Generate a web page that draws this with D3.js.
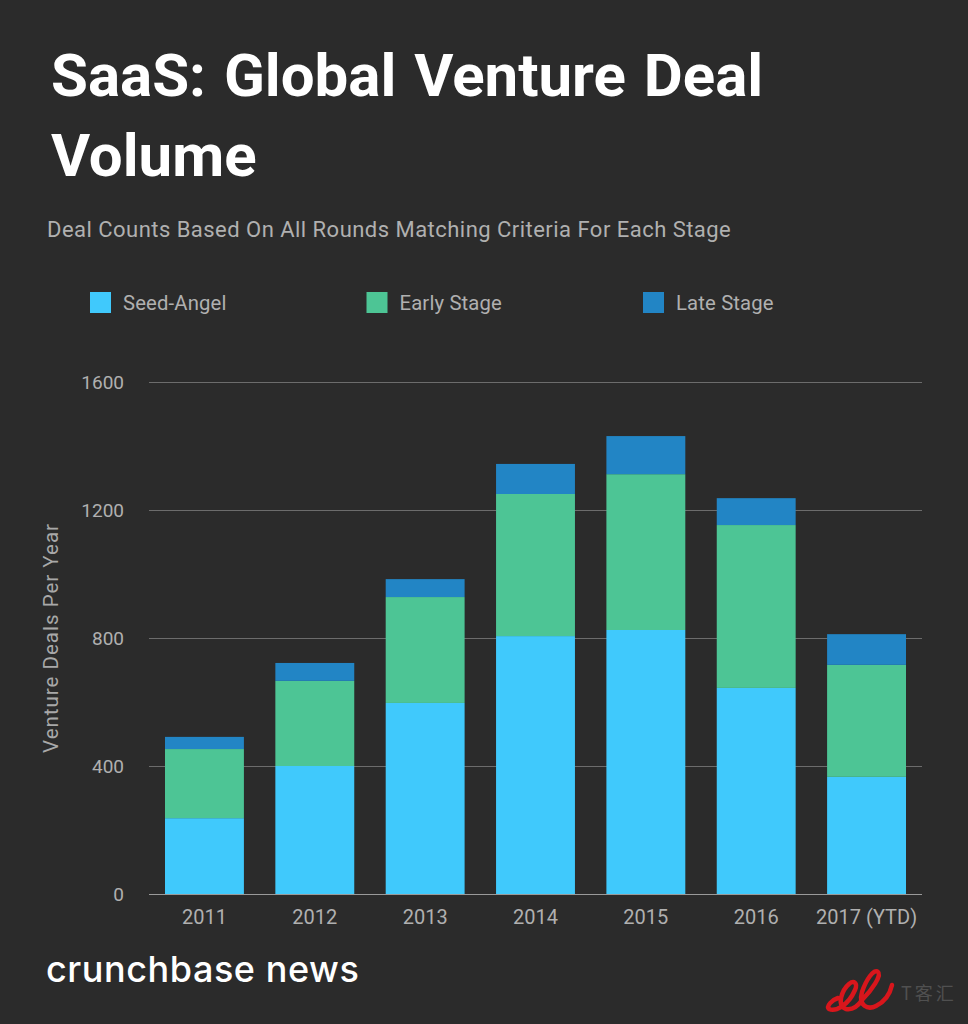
<!DOCTYPE html>
<html>
<head>
<meta charset="utf-8">
<script src="https://cdn.jsdelivr.net/npm/d3@7"></script>
<style>
html, body { margin: 0; padding: 0; background: #2b2b2b; }
svg { display: block; }
text { font-family: Roboto, sans-serif; }
</style>
</head>
<body>
<svg id="chart" width="968" height="1024"></svg>
<script>
const years = ["2011", "2012", "2013", "2014", "2015", "2016", "2017 (YTD)"]
const seedAngel = [237, 400, 597, 806, 825, 644, 366]
const earlyStage = [216, 266, 331, 444, 487, 509, 350]
const lateStage = [38, 56, 56, 94, 119, 84, 96]
const yTicks = [0, 400, 800, 1200, 1600]
const stages = ["Seed-Angel", "Early Stage", "Late Stage"]
const colors = ["#40c9fc", "#4dc595", "#2285c5"]

const svg = d3.select("#chart")
const rows = years.map((y, i) => ({ year: y, "Seed-Angel": seedAngel[i], "Early Stage": earlyStage[i], "Late Stage": lateStage[i] }))

const x = d3.scaleBand().domain(years).range([149, 922]).paddingInner(0.285).paddingOuter(0.145)
const y = d3.scaleLinear().domain([0, 1600]).range([894, 382])
const color = d3.scaleOrdinal().domain(stages).range(colors)

// title
svg.selectAll(".title")
	.data(["SaaS: Global Venture Deal", "Volume"])
	.enter()
	.append("text")
	.attr("x", 51)
	.attr("y", (d, i) => 96 + i * 80)
	.attr("fill", "#ffffff")
	.attr("font-size", 60)
	.attr("font-weight", 700)
	.attr("word-spacing", 3)
	.text(d => d)

svg.append("text")
	.attr("x", 47).attr("y", 237)
	.attr("fill", "#b0b0b0")
	.attr("font-size", 22)
	.attr("letter-spacing", 0.47)
	.text("Deal Counts Based On All Rounds Matching Criteria For Each Stage")

// legend
const legendX = d3.scalePoint().domain(stages).range([90, 643])
const legend = svg.selectAll(".legend")
	.data(stages)
	.enter()
	.append("g")
	.attr("transform", d => `translate(${legendX(d)},292)`)
legend.append("rect")
	.attr("width", 21).attr("height", 21)
	.attr("fill", d => color(d))
legend.append("text")
	.attr("x", 33).attr("y", 18)
	.attr("fill", "#b0b0b0")
	.attr("font-size", 20.3)
	.attr("letter-spacing", 0.15)
	.text(d => d)

// y axis + grid
const yAxis = svg.append("g")
	.attr("transform", "translate(149,0)")
	.call(d3.axisLeft(y).tickValues(yTicks).tickSize(-773).tickPadding(25).tickFormat(d3.format("d")))
yAxis.select(".domain").remove()
yAxis.selectAll("line").attr("stroke", d => d == 0 ? "#9a9a9a" : "#6c6c6c")
yAxis.selectAll("text")
	.attr("fill", "#b0b0b0")
	.attr("font-size", 19)
	.attr("font-family", "Roboto, sans-serif")

// stacked bars
const stacked = d3.stack().keys(stages)(rows)
svg.selectAll(".layer")
	.data(stacked)
	.enter()
	.append("g")
	.attr("fill", d => color(d.key))
	.selectAll("rect")
	.data(d => d)
	.enter()
	.append("rect")
	.attr("x", d => x(d.data.year))
	.attr("y", d => y(d[1]))
	.attr("width", x.bandwidth())
	.attr("height", d => y(d[0]) - y(d[1]))

// x axis
const xAxis = svg.append("g")
	.attr("transform", "translate(0,894)")
	.call(d3.axisBottom(x).tickSize(0).tickPadding(16))
xAxis.select(".domain").remove()
xAxis.selectAll("text")
	.attr("fill", "#b0b0b0")
	.attr("font-size", 20)
	.attr("font-family", "Roboto, sans-serif")

svg.append("text")
	.attr("transform", "translate(58,638) rotate(-90)")
	.attr("text-anchor", "middle")
	.attr("fill", "#a8a8a8")
	.attr("font-size", 20.5)
	.attr("letter-spacing", 1)
	.text("Venture Deals Per Year")

// logo text
svg.append("text")
	.attr("x", 46).attr("y", 982)
	.attr("fill", "#ffffff")
	.style("font-family", "Inter, sans-serif")
	.attr("font-size", 36)
	.attr("font-weight", 500)
	.attr("letter-spacing", 0.55)
	.text("crunchbase news")

// watermark
const mark = svg.append("g")
mark.append("path")
	.attr("d", "M838 998 C832 1000 826 1006 829 1009 C835 1012 848 1006 855 990 C858 983 854 980 849 984 C842 990 836 1006 846 1009 C852 1010 858 1006 862 1000 C872 990 882 975 878 972 C874 968 866 980 862 992 C858 1006 868 1010 876 1006 C884 1002 890 994 892 985")
	.attr("fill", "none")
	.attr("stroke", "#d8161c")
	.attr("stroke-width", 4.5)
	.attr("stroke-linecap", "round")
mark.append("text")
	.attr("x", 901).attr("y", 1000)
	.attr("fill", "#505050")
	.style("font-family", "'Noto Sans CJK SC', sans-serif")
	.attr("font-size", 18)
	.attr("letter-spacing", 3)
	.text("T客汇")
</script>
</body>
</html>
